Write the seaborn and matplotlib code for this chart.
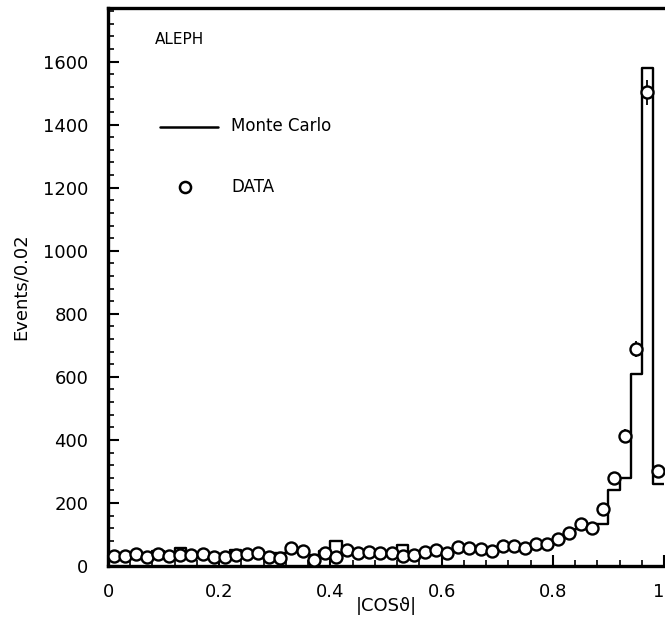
import numpy as np
import pandas as pd
import matplotlib
matplotlib.use("Agg")
import matplotlib.pyplot as plt
import seaborn as sns
from matplotlib.ticker import MultipleLocator, FixedLocator, FixedFormatter

# ---- data ----
bin_edges = [round(0.02 * i, 2) for i in range(51)]
bin_centers = [round(0.02 * i + 0.01, 2) for i in range(50)]

data_events = [32, 32, 38, 28, 38, 32, 35, 35, 38, 28,
               30, 35, 38, 40, 30, 25, 58, 48, 20, 42,
               28, 50, 42, 44, 42, 42, 32, 36, 44, 52,
               40, 60, 57, 54, 48, 63, 63, 57, 70, 70,
               86, 105, 133, 121, 181, 280, 413, 689, 1502, 302]

mc_events = [30, 35, 38, 35, 48, 38, 58, 40, 38, 35,
             38, 50, 42, 38, 40, 42, 50, 45, 35, 48,
             78, 45, 42, 42, 40, 45, 66, 40, 42, 45,
             50, 52, 55, 55, 55, 60, 62, 62, 65, 72,
             85, 100, 118, 125, 133, 241, 280, 610, 1580, 260]

x_ticks = [0, 0.2, 0.4, 0.6, 0.8, 1.0]
x_tick_labels = ["0", "0.2", "0.4", "0.6", "0.8", "1"]
y_ticks = [0, 200, 400, 600, 800, 1000, 1200, 1400, 1600]

df = pd.DataFrame({"cos": bin_centers, "data": data_events, "mc": mc_events})
df["err"] = np.sqrt(df["data"])

sns.set_style("ticks")
plt.rcParams["font.family"] = ["DejaVu Sans"]
plt.rcParams["text.color"] = "black"
plt.rcParams["axes.labelcolor"] = "black"
plt.rcParams["xtick.color"] = "black"
plt.rcParams["ytick.color"] = "black"

fig = plt.figure(figsize=(6.65, 6.30), dpi=100)
W, H = 665, 630
left, right, top, bottom = 108, 664, 8, 566
ax = fig.add_axes([left / W, (H - bottom) / H, (right - left) / W, (bottom - top) / H])

# Monte Carlo histogram (step)
sns.histplot(data=df, x="cos", weights="mc", bins=bin_edges, element="step",
             fill=False, color="black", linewidth=1.7, ax=ax)

# DATA points with error bars
ax.errorbar(df["cos"], df["data"], yerr=df["err"], fmt="none",
            ecolor="black", elinewidth=1.3, capsize=0, zorder=3)
sns.scatterplot(data=df, x="cos", y="data", marker="o", s=75,
                facecolor="white", edgecolor="black", linewidth=1.7,
                ax=ax, zorder=4)

ax.set_xlim(0, 1.0)
ax.set_ylim(0, 1770)

ax.xaxis.set_major_locator(FixedLocator(x_ticks))
ax.xaxis.set_major_formatter(FixedFormatter(x_tick_labels))
ax.xaxis.set_minor_locator(MultipleLocator(0.04))
ax.yaxis.set_major_locator(FixedLocator(y_ticks))
ax.yaxis.set_minor_locator(MultipleLocator(40))

ax.tick_params(axis="both", which="major", direction="in", length=8, width=1.5,
               labelsize=13, pad=14, colors="black")
ax.tick_params(axis="both", which="minor", direction="in", length=4, width=1.2)
ax.tick_params(axis="x", which="major", pad=12)
ax.tick_params(top=False, right=False, which="both")

for s in ["left", "bottom", "top"]:
    ax.spines[s].set_visible(True)
    ax.spines[s].set_linewidth(2.4)
    ax.spines[s].set_color("black")
ax.spines["right"].set_visible(False)

fig.canvas.draw()
ax.get_xticklabels()[-1].set_horizontalalignment("right")

ax.set_xlabel("|COSϑ|", fontsize=13, labelpad=-2)
ax.xaxis.set_label_coords(0.50, -0.055)
ax.set_ylabel("Events/0.02", fontsize=13)
ax.yaxis.set_label_coords(-0.14, 0.5)

# annotations / legend
ax.text(0.085, 0.943, "ALEPH", transform=ax.transAxes, fontsize=11,
        ha="left", va="center")
ax.plot([0.094, 0.198], [0.787, 0.787], transform=ax.transAxes,
        color="black", linewidth=1.8)
ax.text(0.222, 0.789, "Monte Carlo", transform=ax.transAxes, fontsize=12,
        ha="left", va="center")
ax.plot([0.138], [0.679], transform=ax.transAxes, marker="o", ms=8,
        mfc="white", mec="black", mew=1.8, linestyle="none")
ax.text(0.222, 0.679, "DATA", transform=ax.transAxes, fontsize=12,
        ha="left", va="center")

fig.savefig("out.png", dpi=100)
